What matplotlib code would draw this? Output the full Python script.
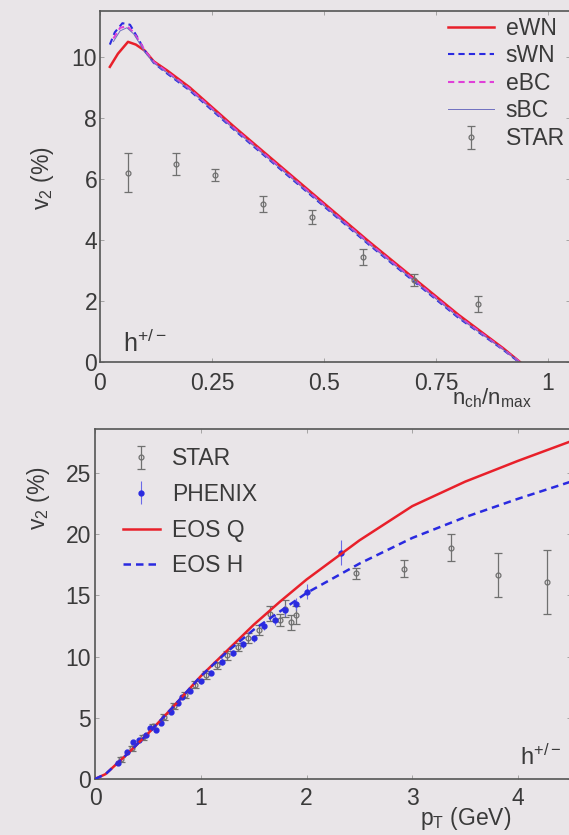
import matplotlib
matplotlib.use("Agg")
import matplotlib.pyplot as plt

plt.rcParams['font.family'] = ['Liberation Sans', 'DejaVu Sans']
plt.rcParams['mathtext.fontset'] = 'custom'
plt.rcParams['mathtext.rm'] = 'Liberation Sans'
plt.rcParams['mathtext.it'] = 'Liberation Sans'

# ---------------- top panel data ----------------
ewn_x = [0.022, 0.04, 0.0625, 0.08, 0.1, 0.12, 0.15, 0.2, 0.3, 0.4, 0.5, 0.6, 0.7, 0.8, 0.9, 0.9375]
ewn_y = [9.67, 10.1, 10.49, 10.4, 10.2, 9.85, 9.55, 9.0, 7.7, 6.45, 5.2, 3.95, 2.75, 1.55, 0.45, 0.0]
swn_x = [0.022, 0.033, 0.05, 0.067, 0.083, 0.1, 0.12, 0.15, 0.2, 0.3, 0.4, 0.5, 0.6, 0.7, 0.8, 0.9, 0.935]
swn_y = [10.4, 10.8, 11.1, 11.05, 10.65, 10.2, 9.8, 9.45, 8.9, 7.6, 6.35, 5.1, 3.85, 2.65, 1.45, 0.4, 0.0]
ebc_x = [0.03, 0.045, 0.06, 0.075, 0.09, 0.1, 0.12, 0.15, 0.2, 0.3, 0.4, 0.5, 0.6, 0.7, 0.8, 0.9, 0.937]
ebc_y = [10.6, 10.95, 11.0, 10.8, 10.45, 10.2, 9.83, 9.5, 8.95, 7.65, 6.4, 5.15, 3.9, 2.7, 1.5, 0.42, 0.0]
sbc_x = [0.03, 0.045, 0.06, 0.075, 0.09, 0.1, 0.12, 0.15, 0.2, 0.3, 0.4, 0.5, 0.6, 0.7, 0.8, 0.9, 0.936]
sbc_y = [10.5, 10.85, 10.95, 10.75, 10.4, 10.15, 9.8, 9.47, 8.92, 7.62, 6.37, 5.12, 3.87, 2.67, 1.47, 0.41, 0.0]
star_top_x = [0.0625, 0.17, 0.257, 0.363, 0.473, 0.587, 0.70, 0.844]
star_top_y = [6.2, 6.49, 6.13, 5.18, 4.75, 3.44, 2.69, 1.9]
star_top_e = [0.64, 0.35, 0.2, 0.25, 0.22, 0.25, 0.2, 0.25]

# ---------------- bottom panel data ----------------
eos_x = [0.0, 0.1, 0.2, 0.3, 0.5, 0.75, 1.0, 1.25, 1.5, 1.75, 2.0, 2.5, 3.0, 3.5, 4.0, 4.5]
eosq_y = [0.0, 0.4, 1.2, 2.0, 3.7, 6.0, 8.4, 10.5, 12.6, 14.5, 16.3, 19.5, 22.3, 24.3, 26.0, 27.6]
eosh_y = [0.0, 0.4, 1.2, 2.0, 3.7, 6.0, 8.4, 10.4, 12.2, 13.7, 15.2, 17.6, 19.7, 21.4, 22.9, 24.3]
star_pt = [0.25, 0.35, 0.45, 0.55, 0.65, 0.75, 0.85, 0.95, 1.05, 1.15, 1.25, 1.35, 1.45, 1.55,
           1.65, 1.75, 1.8, 1.85, 1.9, 2.47, 2.92, 3.37, 3.81, 4.27]
star_v2 = [1.6, 2.5, 3.4, 4.3, 5.1, 6.0, 6.9, 7.7, 8.5, 9.3, 10.1, 10.8, 11.5, 12.2,
           13.5, 13.0, 13.9, 12.8, 13.4, 16.8, 17.2, 18.9, 16.7, 16.1]
star_e = [0.2, 0.2, 0.2, 0.2, 0.25, 0.25, 0.25, 0.3, 0.3, 0.3, 0.35, 0.35, 0.4, 0.4,
          0.6, 0.5, 0.7, 0.6, 0.7, 0.45, 0.7, 1.1, 1.8, 2.6]
phenix_pt = [0.22, 0.3, 0.36, 0.42, 0.48, 0.52, 0.58, 0.62, 0.72, 0.78, 0.82, 0.9, 1.0, 1.1,
             1.2, 1.3, 1.4, 1.5, 1.6, 1.7, 1.8, 1.9, 2.0, 2.33]
phenix_v2 = [1.3, 2.2, 3.0, 3.2, 3.6, 4.2, 4.0, 4.6, 5.5, 6.2, 6.7, 7.2, 8.0, 8.7,
             9.6, 10.3, 11.0, 11.5, 12.5, 13.0, 13.8, 14.3, 15.3, 18.5]
phenix_e = [0.1, 0.1, 0.1, 0.1, 0.1, 0.1, 0.1, 0.1, 0.15, 0.15, 0.15, 0.2, 0.2, 0.2,
            0.25, 0.25, 0.3, 0.3, 0.35, 0.4, 0.45, 0.5, 0.6, 1.0]

bg = '#e9e5e8'
W, H = 569, 835
fig = plt.figure(figsize=(W / 100, H / 100), dpi=100, facecolor=bg)

red = '#e8202a'
blue = '#2a2ae0'
mag = '#e040d8'
thin = '#7070c0'
grey = '#707070'
txt = '#3a3a3a'
FS = 16.5

def fx(px):
    return px / W

def fy(py):
    return (H - py) / H

def style(ax, xpad, ypad):
    ax.set_facecolor(bg)
    for s in ax.spines.values():
        s.set_color('#555555')
        s.set_linewidth(1.2)
    ax.tick_params(direction='in', top=True, right=True, length=3, width=0.6,
                   colors='#999999', labelcolor=txt, labelsize=FS)
    ax.tick_params(axis='x', pad=xpad)
    ax.tick_params(axis='y', pad=ypad)

# ---------- top ----------
ax1 = fig.add_axes([fx(100), fy(362), 470.4 / W, 351 / H])
style(ax1, 7.5, 2)
ax1.plot(ewn_x, ewn_y, '-', color=red, lw=1.8, label='eWN')
ax1.plot(swn_x, swn_y, '--', color=blue, lw=1.5, dashes=(3, 2), label='sWN')
ax1.plot(ebc_x, ebc_y, '--', color=mag, lw=1.5, dashes=(3, 2), label='eBC')
ax1.plot(sbc_x, sbc_y, '-', color=thin, lw=0.7, label='sBC')
ax1.errorbar(star_top_x, star_top_y, yerr=star_top_e, fmt='o', ms=3.5, mfc='none',
             mec=grey, ecolor=grey, elinewidth=0.9, capsize=3, mew=0.9, label='STAR')
ax1.set_xlim(0, 1.05)
ax1.set_ylim(0, 11.5)
ax1.set_xticks([0, 0.25, 0.5, 0.75, 1])
ax1.set_xticklabels(['0', '0.25', '0.5', '0.75', '1'])
ax1.set_yticks([0, 2, 4, 6, 8, 10])
fig.text(fx(42), fy(178), 'v$_2$ (%)', rotation=90, fontsize=FS, color=txt,
         va='center', ha='center')
fig.text(fx(123), fy(352), 'h$^{+/-}$', fontsize=18, color=txt, va='baseline')
fig.text(fx(452), fy(404), 'n$_{\\rm ch}$/n$_{\\rm max}$', fontsize=16, color=txt,
         va='baseline')
leg1 = ax1.legend(loc='upper right', fontsize=FS, frameon=False, handlelength=2.0,
                  borderaxespad=0.15, borderpad=0.1, labelspacing=0.2,
                  handletextpad=0.5, bbox_to_anchor=(1.0, 1.0))
for t in leg1.get_texts():
    t.set_color(txt)

# ---------- bottom ----------
ax2 = fig.add_axes([fx(95), fy(779), 476 / W, 350 / H])
style(ax2, 5.5, 3)
h_star = ax2.errorbar(star_pt, star_v2, yerr=star_e, fmt='o', ms=3.5, mfc='none', mec=grey,
                      ecolor=grey, elinewidth=0.9, capsize=3, mew=0.9, label='STAR', zorder=3)
h_phx = ax2.errorbar(phenix_pt, phenix_v2, yerr=phenix_e, fmt='o', ms=3.5, mfc=blue, mec=blue,
                     ecolor='#6a6ae8', elinewidth=0.8, capsize=0, label='PHENIX', zorder=3)
h_q, = ax2.plot(eos_x, eosq_y, '-', color=red, lw=1.8, label='EOS Q', zorder=4)
h_h, = ax2.plot(eos_x, eosh_y, '--', color=blue, lw=1.8, dashes=(3, 2), label='EOS H', zorder=4)
ax2.set_xlim(0, 4.5)
ax2.set_ylim(0, 28.6)
ax2.set_xticks([0, 1, 2, 3, 4])
ax2.set_yticks([0, 5, 10, 15, 20, 25])
fig.text(fx(38), fy(498), 'v$_2$ (%)', rotation=90, fontsize=FS, color=txt,
         va='center', ha='center')
fig.text(fx(466), fy(818), 'p$_{\\rm T}$ (GeV)', fontsize=FS, color=txt,
         va='center', ha='center')
fig.text(fx(520), fy(765), 'h$^{+/-}$', fontsize=17, color=txt, va='baseline')
leg2 = ax2.legend([h_star, h_phx, h_q, h_h], ['STAR', 'PHENIX', 'EOS Q', 'EOS H'],
                  loc='upper left', fontsize=FS, frameon=False, handlelength=1.6,
                  borderaxespad=0.2, borderpad=0.6, labelspacing=0.55, handletextpad=0.55,
                  bbox_to_anchor=(0.02, 1.0))
for t in leg2.get_texts():
    t.set_color(txt)

fig.savefig('out.png', dpi=100, facecolor=bg)
